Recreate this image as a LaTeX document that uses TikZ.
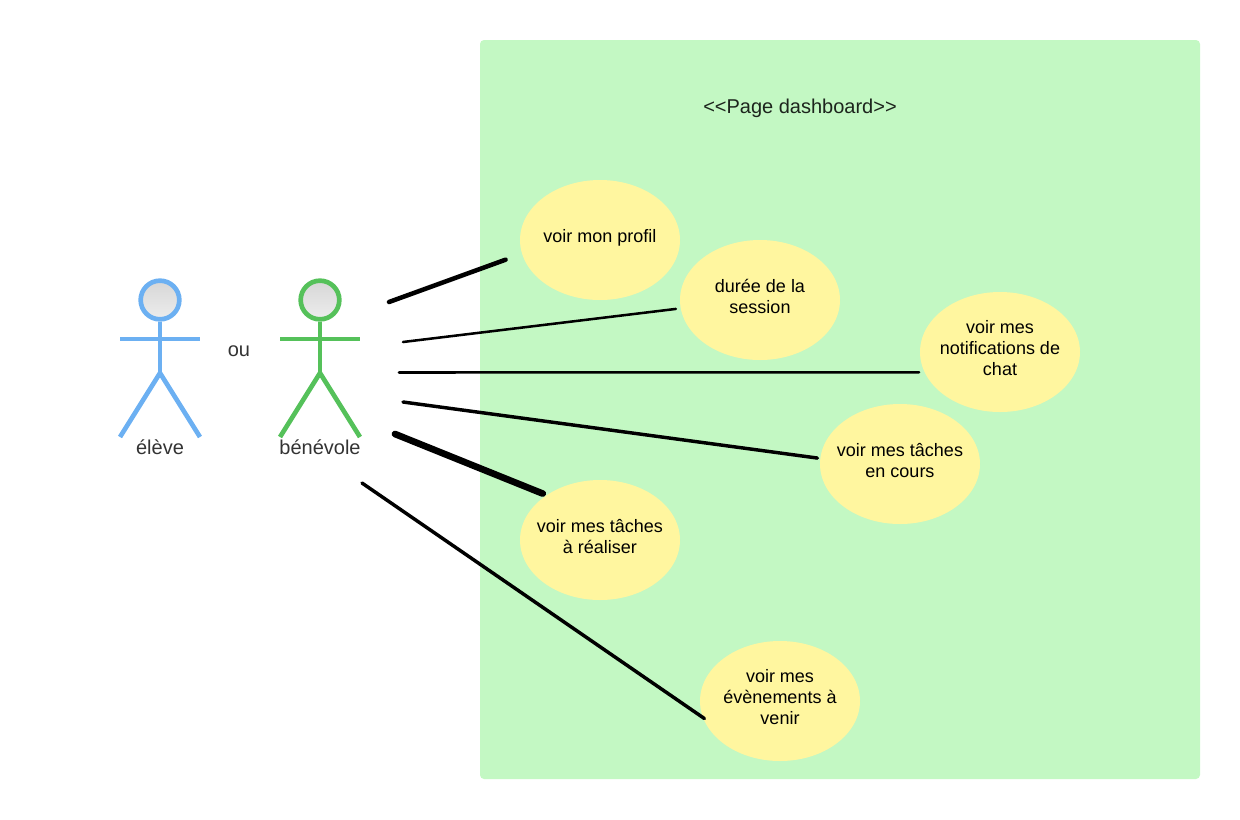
\documentclass[tikz,border=0pt]{standalone}
\usepackage{fontspec}
\setmainfont{Liberation Sans}
\usetikzlibrary{shapes.geometric}
\definecolor{zonegreen}{HTML}{C3F8C3}
\definecolor{caseyellow}{HTML}{FFF69F}
\definecolor{eleveblue}{HTML}{6CB0F2}
\definecolor{benevgreen}{HTML}{55C15A}
\definecolor{labelgray}{HTML}{333333}

\begin{document}
\begin{tikzpicture}[x=0.75pt, y=-0.75pt,
                    usecase/.style={ellipse, fill=caseyellow, align=center, inner xsep=-20pt, inner ysep=-16pt,
                                    minimum width=120pt, minimum height=90pt, text depth=6pt,
                                    font=\fontsize{13.5}{15.75}\selectfont},
                    actorlabel/.style={text=labelgray, font=\fontsize{15}{18}\selectfont},
                    assoc/.style={line cap=round, black}]

\useasboundingbox (0,0) rectangle (1240,819);

% Dashboard zone
\node[draw=none, fill=zonegreen, rounded corners=3pt, minimum width=540pt, minimum height=554.25pt,
      inner sep=0pt] (zone) at (840,409.5) {};
\node[text=black!85!zonegreen, font=\fontsize{15}{18}\selectfont] (title) at (800,108.5) {<{}<Page dashboard>{}>};

% Actors
\foreach \name/\col/\cx/\txt in {eleve/eleveblue/160/élève, benev/benevgreen/320/bénévole} {
    \begin{scope}[shift={(\cx,0)}, line width=3.5pt]
        \node[circle, draw=\col, line width=3.5pt, top color=black!16, bottom color=black!7,
              minimum size=29pt, inner sep=0pt] (\name head) at (0,300) {};
        \coordinate (\name hip) at (0,373);
        \coordinate (\name lefthand) at (-40,339);
        \coordinate (\name righthand) at (40,339);
        \coordinate (\name leftfoot) at (-40,437);
        \coordinate (\name rightfoot) at (40,437);
        \draw[\col] (\name head.south) -- (\name hip);
        \draw[\col] (\name lefthand) -- (\name righthand);
        \draw[\col] (\name leftfoot) -- (\name hip) -- (\name rightfoot);
        \node[actorlabel] (\name label) at (0,447) {\txt};
    \end{scope}
}
\node[actorlabel] (ou) at (239,351) {ou};

% Use cases
\node[usecase] (profil) at (600,240) {voir mon profil};
\node[usecase] (duree) at (760,300) {durée de la\\session};
\node[usecase] (chat) at (1000,352) {voir mes\\notifications de\\chat};
\node[usecase] (encours) at (900,464) {voir mes tâches\\en cours};
\node[usecase] (realiser) at (600,540) {voir mes tâches\\à réaliser};
\node[usecase] (events) at (780,701) {voir mes\\évènements à\\venir};

% Free ends next to the actor
\coordinate (s1) at (389,302);
\coordinate (s2) at (403,342);
\coordinate (s3) at (399,372.5);
\coordinate (s4) at (403,402);
\coordinate (s5) at (395,434);
\coordinate (s6) at (362,483);

\draw[assoc, line width=3.4pt, shorten >=13pt] (s1) -- (profil.190);
\draw[assoc, line width=1.9pt, shorten >=3.5pt] (s2) -- (duree.186.5);
\draw[assoc, line width=1.9pt, shorten >=4pt] (s3) -- (chat.195.2);
\draw[assoc, line width=2.6pt, shorten >=2pt] (s4) -- (encours.176.4);
\draw[assoc, line width=5pt, shorten >=3pt] (s5) -- (realiser.140.5);
\draw[assoc, line width=2.6pt, shorten >=-1.5pt] (s6) -- (events.192.8);

\end{tikzpicture}
\end{document}
